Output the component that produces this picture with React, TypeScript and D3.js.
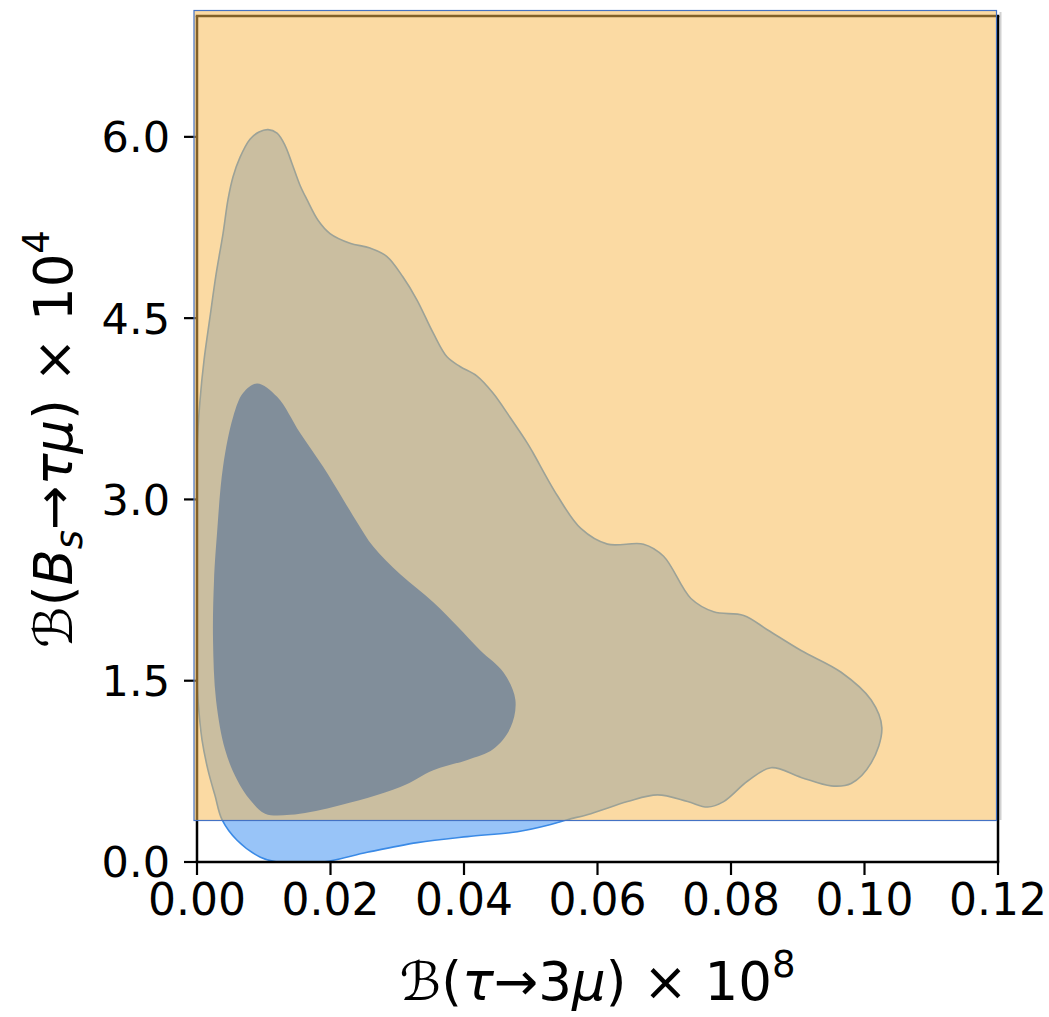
import React from 'react';
import * as d3 from 'd3';

// Axis ticks
const xTicks = [0, 0.02, 0.04, 0.06, 0.08, 0.1, 0.12];
const yTicks = [0, 1.5, 3.0, 4.5, 6.0];

// Outer (95%) credible region: [B(tau->3mu) x1e8, B(Bs->tau mu) x1e4]
const outerContour: [number, number][] = [
  [0.0, 3.41], [0.00045, 3.82], [0.00105, 4.15], [0.00195, 4.51], [0.00285, 4.86],
  [0.0039, 5.2], [0.00464, 5.48], [0.0054, 5.67], [0.00644, 5.83], [0.00794, 5.98],
  [0.00929, 6.04], [0.01064, 6.06], [0.01199, 6.03], [0.01318, 5.93], [0.01423, 5.78],
  [0.01543, 5.6], [0.01648, 5.48],
  [0.01813, 5.31], [0.01993, 5.2], [0.02292, 5.12], [0.02592, 5.08], [0.02846, 5.01],
  [0.03086, 4.84], [0.03296, 4.65], [0.03536, 4.38], [0.03745, 4.18], [0.0394, 4.1],
  [0.04195, 4.02], [0.04434, 3.88], [0.04689, 3.68], [0.04944, 3.47], [0.0504, 3.38],
  [0.054, 3.03], [0.0575, 2.76], [0.0615, 2.63],
  [0.0669, 2.63], [0.0699, 2.53], [0.074, 2.18], [0.0774, 2.07], [0.0819, 2.04],
  [0.0855, 1.92], [0.0905, 1.75], [0.0965, 1.57], [0.101, 1.34], [0.1026, 1.11],
  [0.101, 0.82], [0.098, 0.65], [0.095, 0.63], [0.0905, 0.7], [0.086, 0.78],
  [0.0825, 0.67], [0.0789, 0.5], [0.0765, 0.455], [0.0735, 0.5], [0.069, 0.555],
  [0.0645, 0.5], [0.059, 0.4], [0.0555, 0.35], [0.053, 0.31], [0.048, 0.25],
  [0.0405, 0.21], [0.033, 0.16], [0.0255, 0.08], [0.0189, 0.0], [0.012, 0.0],
  [0.0095, 0.04], [0.006, 0.18], [0.00375, 0.35], [0.0027, 0.55], [0.00165, 0.76],
  [0.00075, 1.01], [0.00015, 1.34], [0.0, 1.5], [0.0, 2.5],
];

// Inner (68%) credible region
const innerContour: [number, number][] = [
  [0.009, 3.96], [0.012, 3.85], [0.01545, 3.55], [0.0189, 3.27], [0.0219, 3.0],
  [0.024, 2.81], [0.0264, 2.61], [0.03045, 2.38], [0.0354, 2.15], [0.039, 1.95],
  [0.04245, 1.75], [0.0459, 1.57], [0.0477, 1.34], [0.04695, 1.11], [0.0444, 0.935],
  [0.0405, 0.845], [0.0354, 0.76], [0.03045, 0.62], [0.0204, 0.455], [0.01395, 0.39],
  [0.0102, 0.4], [0.008, 0.51], [0.006, 0.68], [0.0042, 0.93], [0.00285, 1.34],
  [0.0024, 1.84], [0.00255, 2.33], [0.003, 2.72], [0.0039, 3.27], [0.0054, 3.68],
  [0.0069, 3.88],
];

const W = 1049;
const H = 1017;
const left = 197;
const right = 998;
const top = 16;
const bottom = 862;

const x = d3.scaleLinear().domain([0, 0.12]).range([left, right]);
const y = d3.scaleLinear().domain([0, 7.0]).range([bottom, top]);

const area = d3
  .line<[number, number]>()
  .x((d) => x(d[0]))
  .y((d) => y(d[1]))
  .curve(d3.curveCatmullRomClosed.alpha(0.5));

const FONT = '"DejaVu Sans", sans-serif';
const LABEL = 53;
const SUP = 37;

export default function App() {
  return (
    <svg
      width={W}
      height={H}
      style={{ position: 'absolute', left: 0, top: 0, background: '#fff' }}
      fontFamily={FONT}
    >
      <defs>
        <clipPath id="plot-area">
          <rect x={left} y={top} width={right - left} height={bottom - top} />
        </clipPath>
      </defs>

      {/* credible regions */}
      <g clipPath="url(#plot-area)">
        <path d={area(outerContour) ?? ''} fill="#98c4f8" stroke="#3a8ae6" strokeWidth={1.6} />
        <path d={area(innerContour) ?? ''} fill="#0060ec" />
      </g>

      {/* spines */}
      <g stroke="#000" strokeWidth={2.5} fill="none">
        <line x1={left} x2={left} y1={top} y2={bottom} />
        <line x1={right} x2={right} y1={top} y2={bottom} />
        <line x1={left - 1.25} x2={right + 1.25} y1={bottom} y2={bottom} />
        <line x1={left - 1.25} x2={right + 1.25} y1={top} y2={top} />
      </g>

      {/* x ticks */}
      <g>
        {xTicks.map((t) => (
          <g key={`x${t}`}>
            <line x1={x(t)} x2={x(t)} y1={bottom} y2={bottom + 13} stroke="#000" strokeWidth={2.2} />
            <text x={x(t)} y={bottom + 53} fontSize={44} textAnchor="middle" fill="#000">
              {t.toFixed(2)}
            </text>
          </g>
        ))}
      </g>

      {/* y ticks */}
      <g>
        {yTicks.map((t) => (
          <g key={`y${t}`}>
            <line x1={left - 13} x2={left} y1={y(t)} y2={y(t)} stroke="#000" strokeWidth={2.2} />
            <text x={left - 27} y={y(t)} dy="0.36em" fontSize={43} textAnchor="end" fill="#000">
              {t.toFixed(1)}
            </text>
          </g>
        ))}
      </g>

      {/* soft edge to the right of the highlighted window */}
      <line x1={1000.5} x2={1000.5} y1={12} y2={820} stroke="#000" strokeOpacity={0.18} strokeWidth={2} />

      {/* highlighted allowed window */}
      <rect
        x={194}
        y={10.5}
        width={996.5 - 194}
        height={820.5 - 10.5}
        fill="rgb(247,184,79)"
        fillOpacity={0.52}
        stroke="#4472c4"
        strokeWidth={1.2}
      />

      {/* x axis label */}
      <text x={(left + right) / 2} y={1000} fontSize={LABEL} textAnchor="middle" fill="#000">
        <tspan fontStyle="italic">ℬ</tspan>
        <tspan>(</tspan>
        <tspan fontStyle="italic">τ</tspan>
        <tspan>→3</tspan>
        <tspan fontStyle="italic">μ</tspan>
        <tspan>) × 10</tspan>
        <tspan fontSize={SUP} dy={-23}>8</tspan>
      </text>

      {/* y axis label */}
      <text
        transform={`translate(72, ${(top + bottom) / 2}) rotate(-90)`}
        fontSize={LABEL}
        textAnchor="middle"
        fill="#000"
      >
        <tspan fontStyle="italic">ℬ</tspan>
        <tspan>(</tspan>
        <tspan fontStyle="italic">B</tspan>
        <tspan fontStyle="italic" fontSize={SUP} dy={10}>s</tspan>
        <tspan dy={-10}>→</tspan>
        <tspan fontStyle="italic">τμ</tspan>
        <tspan>) × 10</tspan>
        <tspan fontSize={SUP} dy={-23}>4</tspan>
      </text>
    </svg>
  );
}
